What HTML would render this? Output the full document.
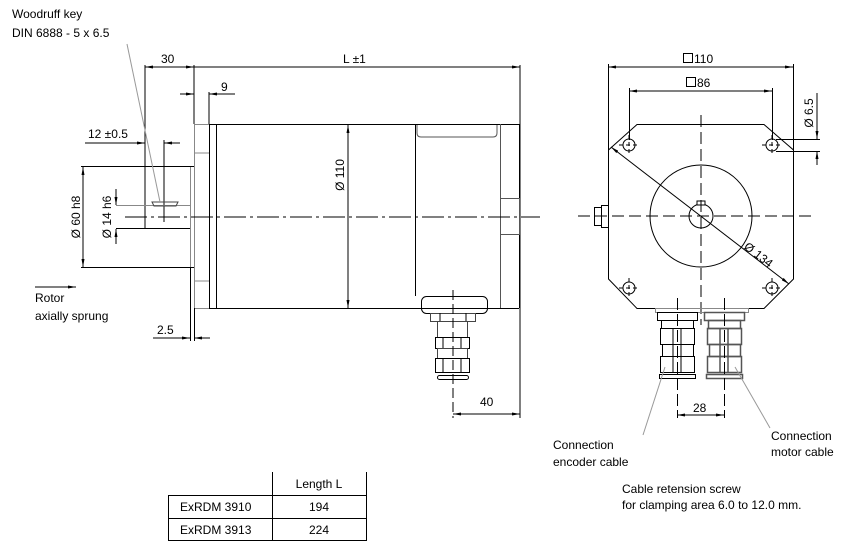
<!DOCTYPE html>
<html><head><meta charset="utf-8"><style>
html,body{margin:0;padding:0;background:#fff}
svg{display:block}
text{font-family:"Liberation Sans",sans-serif;font-size:12px;fill:#000}
</style></head><body>
<svg width="860" height="554" viewBox="0 0 860 554" xmlns="http://www.w3.org/2000/svg">
<defs>
<marker id="a" markerWidth="8" markerHeight="6" refX="8" refY="3" orient="auto-start-reverse" markerUnits="userSpaceOnUse"><path d="M0,1.5 L8,3 L0,4.5 Z" fill="#000"/></marker>
</defs>
<g stroke="#000" stroke-width="1" fill="none">
<line x1="145" y1="67" x2="194" y2="67" marker-start="url(#a)" marker-end="url(#a)"/>
<line x1="194" y1="67" x2="520" y2="67" marker-end="url(#a)"/>
<line x1="145" y1="65" x2="145" y2="228"/>
<line x1="194" y1="65" x2="194" y2="124"/>
<line x1="520" y1="65" x2="520" y2="418"/>
<line x1="180" y1="94" x2="194" y2="94" marker-end="url(#a)"/>
<line x1="235" y1="94" x2="209" y2="94" marker-end="url(#a)"/>
<line x1="209" y1="92" x2="209" y2="124"/>
<line x1="85" y1="143" x2="145" y2="143" marker-end="url(#a)"/>
<line x1="180" y1="143" x2="164" y2="143" marker-end="url(#a)"/>
<line x1="164" y1="140" x2="164" y2="222"/>
<g stroke="#888"><rect x="194.5" y="124.5" width="15" height="184"/>
<line x1="194" y1="153" x2="209" y2="153"/><line x1="194" y1="281" x2="209" y2="281"/>
<line x1="190.5" y1="167" x2="190.5" y2="267"/></g>
<line x1="209.5" y1="124" x2="209.5" y2="308"/>
<line x1="216.5" y1="124" x2="216.5" y2="308"/>
<line x1="209" y1="124.5" x2="519" y2="124.5"/>
<line x1="209" y1="308.5" x2="519" y2="308.5"/>
<line x1="81" y1="166.5" x2="194" y2="166.5"/>
<line x1="81" y1="267.5" x2="194" y2="267.5"/>
<line x1="116" y1="205.5" x2="190" y2="205.5" stroke="#888"/>
<line x1="116" y1="228.5" x2="190" y2="228.5"/>
<path d="M152,202 L178,202 L176,206 L154,206 Z" stroke="#444"/>
<line x1="83" y1="167" x2="83" y2="267" marker-start="url(#a)" marker-end="url(#a)"/>
<line x1="116" y1="189" x2="116" y2="205" marker-end="url(#a)"/>
<line x1="116" y1="244" x2="116" y2="229" marker-end="url(#a)"/>
<line x1="127" y1="44" x2="160" y2="202" stroke="#999"/>
<line x1="35" y1="287" x2="76" y2="287" marker-end="url(#a)"/>
<line x1="153" y1="338" x2="190" y2="338" marker-end="url(#a)"/>
<line x1="210" y1="338" x2="194" y2="338" marker-end="url(#a)"/>
<line x1="190.5" y1="267" x2="190.5" y2="341"/>
<line x1="194.5" y1="308" x2="194.5" y2="341"/>
<line x1="415.5" y1="124" x2="415.5" y2="296"/>
<line x1="500.5" y1="124" x2="500.5" y2="308" stroke="#555"/>
<line x1="519.5" y1="124" x2="519.5" y2="308"/>
<path d="M417,125 L417,133 Q417,137 421,137 L493,137 Q497,137 497,133 L497,125" stroke="#555"/>
<rect x="500.5" y="198.5" width="19" height="36" stroke="#555"/>
<line x1="348" y1="125" x2="348" y2="308" marker-start="url(#a)" marker-end="url(#a)"/>
<rect x="421.5" y="296.5" width="66" height="17" rx="5"/>
<rect x="430.5" y="313.5" width="45" height="8" stroke="#444"/>
<line x1="440" y1="313" x2="440" y2="321"/><line x1="466" y1="313" x2="466" y2="321"/>
<rect x="437.5" y="321.5" width="30" height="16" stroke="#444"/>
<rect x="435.5" y="337.5" width="34" height="11"/>
<line x1="443" y1="337" x2="443" y2="348"/><line x1="461" y1="337" x2="461" y2="348"/>
<rect x="437.5" y="348.5" width="30" height="10" stroke="#444"/>
<rect x="435.5" y="358.5" width="34" height="14"/>
<line x1="443" y1="358" x2="443" y2="372"/><line x1="461" y1="358" x2="461" y2="372"/>
<rect x="437.5" y="375.5" width="31" height="4" rx="2"/>
<line x1="453" y1="290" x2="453" y2="418" stroke-dasharray="10,4"/>
<line x1="453" y1="414" x2="520" y2="414" marker-start="url(#a)" marker-end="url(#a)"/>
<line x1="125" y1="217" x2="540" y2="217" stroke-dasharray="22,4,3,4"/>

<path d="M637,124.5 L764,124.5 L793.5,150 L793.5,279 L764,308.5 L637,308.5 L608.5,279 L608.5,150 Z"/>
<circle cx="701" cy="216" r="51"/>
<circle cx="701" cy="216" r="12"/>
<rect x="697" y="201" width="8" height="4" fill="#fff"/>
<circle cx="629" cy="145" r="6"/><circle cx="772" cy="145" r="6"/>
<circle cx="629" cy="288" r="6"/><circle cx="772" cy="288" r="6"/>
<g stroke-dasharray="4,3">
<line x1="619" y1="145" x2="639" y2="145"/><line x1="629" y1="135" x2="629" y2="155"/>
<line x1="762" y1="145" x2="782" y2="145"/><line x1="772" y1="135" x2="772" y2="155"/>
<line x1="619" y1="288" x2="639" y2="288"/><line x1="629" y1="278" x2="629" y2="298"/>
<line x1="762" y1="288" x2="782" y2="288"/><line x1="772" y1="278" x2="772" y2="298"/>
</g>
<line x1="578" y1="216" x2="812" y2="216" stroke-dasharray="12,5"/>
<line x1="701" y1="115" x2="701" y2="325" stroke-dasharray="12,5"/>
<line x1="611" y1="147" x2="789" y2="284" marker-start="url(#a)" marker-end="url(#a)"/>
<line x1="608" y1="67" x2="793" y2="67" marker-start="url(#a)" marker-end="url(#a)"/>
<line x1="608.5" y1="64" x2="608.5" y2="150"/>
<line x1="793.5" y1="64" x2="793.5" y2="150"/>
<line x1="629" y1="91" x2="772" y2="91" marker-start="url(#a)" marker-end="url(#a)"/>
<line x1="629.5" y1="88" x2="629.5" y2="140"/>
<line x1="772.5" y1="88" x2="772.5" y2="140"/>
<line x1="776" y1="139.5" x2="820" y2="139.5"/>
<line x1="776" y1="151.5" x2="820" y2="151.5"/>
<line x1="817" y1="93" x2="817" y2="139" marker-end="url(#a)"/>
<line x1="817" y1="165" x2="817" y2="151" marker-end="url(#a)"/>
<rect x="594.5" y="207.5" width="7" height="18"/>
<rect x="601.5" y="205.5" width="7" height="22"/>
<rect x="655.5" y="308.5" width="93" height="4" stroke="#888"/>
<g>
<rect x="657.5" y="312.5" width="40" height="8"/>
<rect x="661.5" y="320.5" width="32" height="8"/>
<rect x="660.5" y="328.5" width="34" height="16"/>
<rect x="662.5" y="344.5" width="31" height="12"/>
<rect x="660.5" y="356.5" width="34" height="16"/>
<rect x="659.5" y="374.5" width="36" height="4"/>
<line x1="673" y1="328" x2="673" y2="372"/><line x1="681" y1="328" x2="681" y2="372"/>
</g>
<g stroke="#555" stroke-width="1.5">
<rect x="704.5" y="312.5" width="40" height="8"/>
<rect x="708.5" y="320.5" width="32" height="8"/>
<rect x="707.5" y="328.5" width="34" height="16"/>
<rect x="709.5" y="344.5" width="31" height="12"/>
<rect x="707.5" y="356.5" width="34" height="16"/>
<rect x="706.5" y="374.5" width="36" height="4"/>
<line x1="720" y1="328" x2="720" y2="372"/><line x1="728" y1="328" x2="728" y2="372"/>
</g>
<line x1="677.5" y1="298" x2="677.5" y2="418" stroke-dasharray="12,4"/>
<line x1="724.5" y1="298" x2="724.5" y2="418" stroke-dasharray="12,4"/>
<line x1="677" y1="415" x2="724" y2="415" marker-start="url(#a)" marker-end="url(#a)"/>
<line x1="643" y1="435" x2="665" y2="367" stroke="#999"/>
<line x1="770" y1="428" x2="735" y2="367" stroke="#999"/>
<line x1="272.5" y1="472" x2="272.5" y2="540"/>
<line x1="168" y1="495.5" x2="367" y2="495.5"/>
<line x1="168" y1="518.5" x2="367" y2="518.5"/>
<line x1="168" y1="540.5" x2="367" y2="540.5"/>
<line x1="168.5" y1="495" x2="168.5" y2="541"/>
<line x1="366.5" y1="472" x2="366.5" y2="541"/>
</g>
<rect x="683.5" y="53.5" width="9" height="9" fill="none" stroke="#000"/>
<rect x="686.5" y="77.5" width="9" height="9" fill="none" stroke="#000"/>
<text x="12" y="18">Woodruff key</text>
<text x="12" y="37">DIN 6888 - 5 x 6.5</text>
<text x="161" y="63">30</text>
<text x="343" y="63">L ±1</text>
<text x="221" y="91">9</text>
<text x="88" y="138">12 ±0.5</text>
<text transform="translate(80,217) rotate(-90)" text-anchor="middle">Ø 60 h8</text>
<text transform="translate(111,217) rotate(-90)" text-anchor="middle">Ø 14 h6</text>
<text transform="translate(344,175) rotate(-90)" text-anchor="middle">Ø 110</text>
<text x="35" y="302">Rotor</text>
<text x="35" y="320">axially sprung</text>
<text x="157" y="334">2.5</text>
<text x="480" y="406">40</text>
<text x="694" y="63">110</text>
<text x="697" y="87">86</text>
<text transform="translate(813,113) rotate(-90)" text-anchor="middle">Ø 6.5</text>
<text transform="translate(756,258) rotate(38)" text-anchor="middle">Ø 134</text>
<text x="693" y="412">28</text>
<text x="553" y="449">Connection</text>
<text x="553" y="466">encoder cable</text>
<text x="771" y="440">Connection</text>
<text x="771" y="456">motor cable</text>
<text x="622" y="493">Cable retension screw</text>
<text x="622" y="509">for clamping area 6.0 to 12.0 mm.</text>
<text x="319" y="488" text-anchor="middle">Length L</text>
<text x="180" y="511">ExRDM 3910</text>
<text x="180" y="534">ExRDM 3913</text>
<text x="319" y="511" text-anchor="middle">194</text>
<text x="319" y="534" text-anchor="middle">224</text>
</svg>
</body></html>
